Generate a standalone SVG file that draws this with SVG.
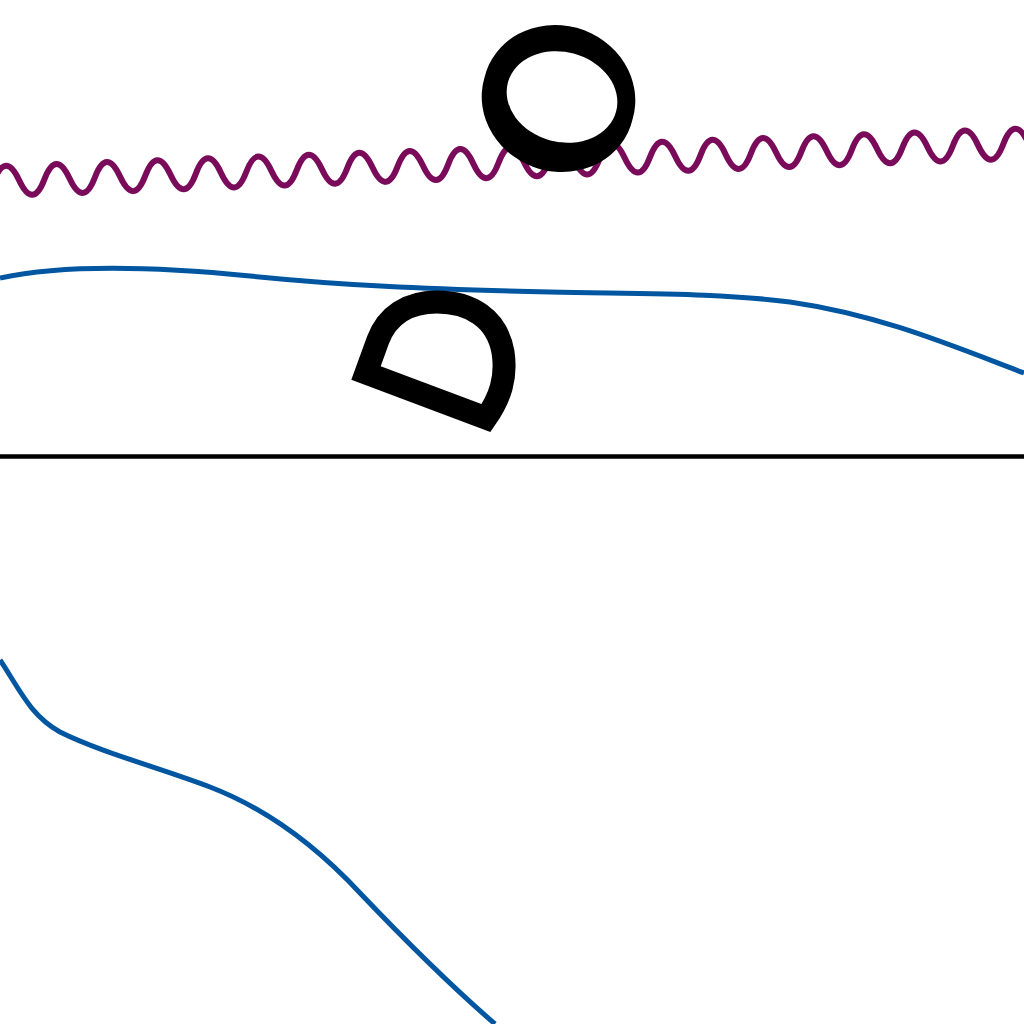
<svg xmlns="http://www.w3.org/2000/svg" width="1024" height="1024" viewBox="0 0 1024 1024">
<style>
.blue{fill:none;stroke:#0056a0;stroke-width:5}
.wave{fill:none;stroke:#7a0b5a;stroke-width:6}
.ink{fill:#000}
</style>
<rect width="1024" height="1024" fill="#fff"/>
<g id="wave">
<path class="wave" transform="translate(0,181) rotate(-2.1)" d="M-6.1,0 Q6.5,-30 19.15,0 T44.4,0 T69.65,0 T94.9,0 T120.15,0 T145.4,0 T170.65,0 T195.9,0 T221.15,0 T246.4,0 T271.65,0 T296.9,0 T322.15,0 T347.4,0 T372.65,0 T397.9,0 T423.15,0 T448.4,0 T473.65,0 T498.9,0 T524.15,0 T549.4,0 T574.65,0 T599.9,0 T625.15,0 T650.4,0 T675.65,0 T700.9,0 T726.15,0 T751.4,0 T776.65,0 T801.9,0 T827.15,0 T852.4,0 T877.65,0 T902.9,0 T928.15,0 T953.4,0 T978.65,0 T1003.9,0 T1029.15,0 T1054.4,0"/>
</g>
<g id="blue-upper">
<path class="blue" d="M0,278 C60,265 150,266 250,276 C340,285 420,289 550,292 C650,294 720,293 790,302 C880,315 950,345 1024,373"/>
</g>
<g id="blue-lower">
<path class="blue" d="M0,660 C20,690 30,715 60,732 C100,752 160,768 210,787 C270,810 320,850 360,893 C400,935 450,985 495,1024"/>
</g>
<g id="baseline">
<line x1="0" y1="456.5" x2="1024" y2="456.5" stroke="#000" stroke-width="4.5"/>
</g>
<g id="ring">
<path class="ink" fill-rule="evenodd" d="M632.7,118.8 A77,71 20 1 1 484.3,78.2 A77,71 20 1 1 632.7,118.8 Z M616.1,111.5 A56,45 15 1 1 507.9,82.5 A56,45 15 1 1 616.1,111.5 Z"/>
</g>
<g id="dome">
<path d="M366,373 L486,418 C500,398 507,378 503,352 C497,318 470,302 437,302 C407,302 387,316 378,340 L366,373 Z" fill="none" stroke="#000" stroke-width="23" stroke-linejoin="miter"/>
</g>
</svg>
